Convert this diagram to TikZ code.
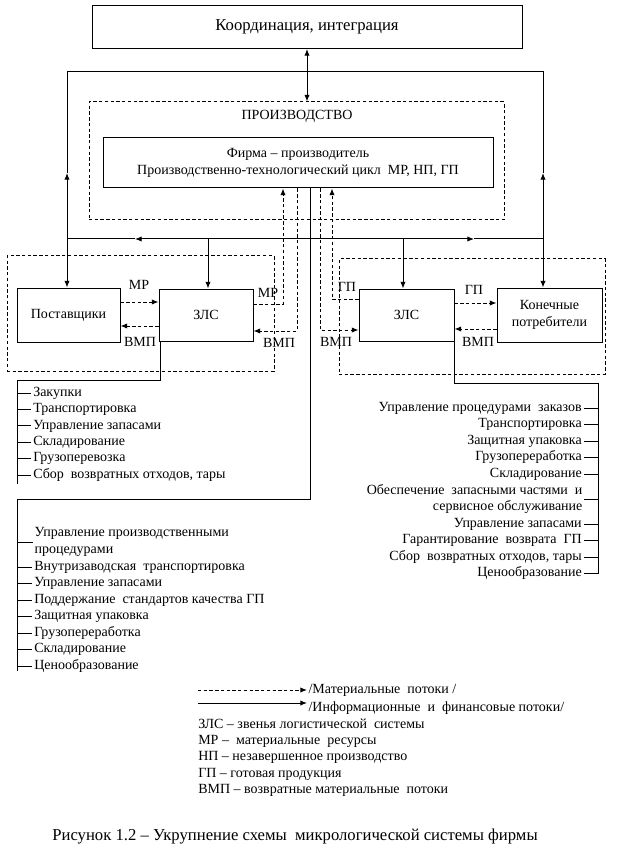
\documentclass[tikz,border=0pt]{standalone}
\usepackage{fontspec}
\setmainfont{LiberationSerif}[Extension=.ttf, UprightFont=*-Regular, BoldFont=*-Bold]
\usepackage{tikz}
\usetikzlibrary{arrows.meta}

\begin{document}
\begin{tikzpicture}[x=0.75pt, y=-0.75pt,
    info/.style={black, line width=0.75pt},
    mat/.style={black, line width=0.75pt, dash pattern=on 2.5pt off 1.8pt},
    arr/.style={-{Latex[length=5pt,width=4pt]}},
    blk/.style={draw, line width=0.75pt, inner sep=0pt, align=center, font=\fontsize{10.5}{12.5}\selectfont},
    grp/.style={draw, mat, inner sep=0pt},
    lbl/.style={inner sep=1pt, font=\fontsize{10.5}{12.5}\selectfont},
    entry/.style={inner sep=1.5pt, text height=7.5pt, text depth=2.5pt, font=\fontsize{10.5}{12.5}\selectfont}]
  \useasboundingbox (0,0) rectangle (618,855);

  \node[grp, minimum width=200.25pt, minimum height=86.25pt] (grpL) at (140.5,313.5) {};
  \node[grp, minimum width=199.5pt, minimum height=86.25pt] (grpR) at (472,316.5) {};
  \node[blk, minimum width=322.5pt, minimum height=32.25pt, font=\fontsize{12.5}{15}\selectfont] (coord) at (307,27) {Координация, интеграция};
  \node[grp, minimum width=311.25pt, minimum height=88.5pt] (prod) at (296.5,161) {};
  \node[lbl] (prodt) at (297,116) {ПРОИЗВОДСТВО};
  \node[blk, minimum width=292.5pt, minimum height=37.5pt] (firm) at (298,163) {Фирма – производитель\\Производственно-технологический цикл\ \ МР, НП, ГП};
  \node[blk, minimum width=77.25pt, minimum height=40.5pt] (sup) at (68.5,315) {Поставщики};
  \node[blk, minimum width=70.5pt, minimum height=39pt] (zlsL) at (206,315) {ЗЛС};
  \node[blk, minimum width=71.25pt, minimum height=39pt] (zlsR) at (406.5,315) {ЗЛС};
  \node[blk, minimum width=78.75pt, minimum height=40.5pt] (cons) at (549.5,315) {Конечные\\потребители};

  \coordinate (tl) at (67,72);   \coordinate (tr) at (543,72);
  \coordinate (al) at (67,173);  \coordinate (ar) at (543,173);
  \coordinate (il) at (67,239);  \coordinate (ir) at (543,239);
  \coordinate (dl) at (208,239); \coordinate (dr) at (403,239);
  \coordinate (hl) at (135,239); \coordinate (hr) at (474,239);
  \draw[info, {Latex[length=5pt,width=4pt]}-{Latex[length=5pt,width=4pt]}] (coord.south) -- (coord.south |- prod.north);
  \draw[info] (al) -- (tl) -- (tr) -- (ar);
  \draw[info, arr] (il) -- (al);
  \draw[info, arr] (ir) -- (ar);
  \draw[info, arr] (il) -- (sup.north -| il);
  \draw[info, arr] (ir) -- (cons.north -| ir);
  \draw[info] (dl) -- (dr);
  \draw[info, arr] (dl) -- (hl);
  \draw[info] (hl) -- (il);
  \draw[info, arr] (dr) -- (hr);
  \draw[info] (hr) -- (ir);
  \draw[info, arr] (dl) -- (zlsL.north -| dl);
  \draw[info, arr] (dr) -- (zlsR.north -| dr);

  \coordinate (mr1) at (140,302); \coordinate (vm1) at (140,326);
  \coordinate (mr2) at (283,304); \coordinate (vm2) at (297,331);
  \coordinate (gp2) at (332,299); \coordinate (vm3) at (320,330);
  \coordinate (gp1) at (475,303); \coordinate (vm4) at (475,329);
  \draw[mat, arr] (sup.east |- mr1) -- (zlsL.west |- mr1);
  \draw[mat, arr] (zlsL.west |- vm1) -- (sup.east |- vm1);
  \draw[mat, arr] (zlsL.east |- mr2) -- (mr2) -- (firm.south -| mr2);
  \draw[mat, arr] (firm.south -| vm2) -- (vm2) -- (zlsL.east |- vm2);
  \draw[mat, arr] (zlsR.west |- gp2) -- (gp2) -- (firm.south -| gp2);
  \draw[mat, arr] (firm.south -| vm3) -- (vm3) -- (zlsR.west |- vm3);
  \draw[mat, arr] (zlsR.east |- gp1) -- (cons.west |- gp1);
  \draw[mat, arr] (cons.west |- vm4) -- (zlsR.east |- vm4);
  \node[lbl] (mrA) at (139,285) {МР};
  \node[lbl] (vmA) at (140,342) {ВМП};
  \node[lbl] (mrB) at (268,293) {МР};
  \node[lbl] (vmB) at (279,343) {ВМП};
  \node[lbl] (gpB) at (347,287) {ГП};
  \node[lbl] (vmC) at (336,342) {ВМП};
  \node[lbl] (gpA) at (474,290) {ГП};
  \node[lbl] (vmD) at (478,342) {ВМП};

  \coordinate (lb1) at (160,380); \coordinate (lb2) at (17,380); \coordinate (lb3) at (17,484);
  \draw[info] (zlsL.south -| lb1) -- (lb1) -- (lb2) -- (lb3);
  \foreach \t [count=\i] in {Закупки, Транспортировка, Управление запасами, Складирование, Грузоперевозка, {Сбор\ \ возвратных отходов, тары}} {
    \node[entry, anchor=west] (sl\i) at (31,376.6+16.4*\i) {\t};
    \draw[info] (lb2 |- sl\i.west) -- (sl\i.west);
  }

  \coordinate (fv) at (310,499); \coordinate (fl) at (17,499); \coordinate (fe) at (17,671);
  \draw[info] (firm.south -| fv) -- (fv) -- (fl) -- (fe);
  \node[lbl, anchor=west, align=left] (pl0) at (33,542) {Управление производственными\\процедурами};
  \draw[info] (fl |- pl0.west) -- (pl0.west);
  \foreach \t [count=\i] in {Внутризаводская\ \ транспортировка, Управление запасами, Поддержание\ \ стандартов качества ГП, Защитная упаковка, Грузопереработка, Складирование, Ценообразование} {
    \node[entry, anchor=west] (pl\i) at (32,550.5+16.5*\i) {\t};
    \draw[info] (fl |- pl\i.west) -- (pl\i.west);
  }

  \coordinate (rb1) at (454,383); \coordinate (rb2) at (598,383); \coordinate (rb3) at (598,574);
  \draw[info] (zlsR.south -| rb1) -- (rb1) -- (rb2) -- (rb3);
  \foreach \t [count=\i] in {Управление процедурами\ \ заказов, Транспортировка, Защитная упаковка, Грузопереработка, Складирование} {
    \node[entry, anchor=east] (rl\i) at (584,391.5+16.5*\i) {\t};
    \draw[info] (rl\i.east) -- (rb2 |- rl\i.east);
  }
  \node[lbl, anchor=east, align=right] (rq0) at (584,499) {Обеспечение\ \ запасными частями\ \ и\\сервисное обслуживание};
  \draw[info] (rq0.east) -- (rb2 |- rq0.east);
  \foreach \t [count=\i] in {Управление запасами, Гарантирование\ \ возврата\ \ ГП, {Сбор\ \ возвратных отходов, тары}, Ценообразование} {
    \node[entry, anchor=east] (rm\i) at (584,507.5+16.5*\i) {\t};
    \draw[info] (rm\i.east) -- (rb2 |- rm\i.east);
  }

  \coordinate (lg1) at (198,690); \coordinate (lg2) at (198,703);
  \node[lbl, anchor=west] (lgm) at (307,690) {/Материальные\ \ потоки /};
  \node[lbl, anchor=west] (lgi) at (307,708) {/Информационные\ \ и\ \ финансовые потоки/};
  \draw[mat, arr] (lg1) -- (lgm.west);
  \draw[info, arr] (lg2) -- (lgi.west |- lg2);
  \foreach \t [count=\i] in {ЗЛС – звенья логистической\ \ системы, МР –\ \ материальные\ \ ресурсы, НП – незавершенное производство, ГП – готовая продукция, ВМП – возвратные материальные\ \ потоки} {
    \node[entry, anchor=west] (lg\i) at (196,708.6+16.3*\i) {\t};
  }
  \node[font=\fontsize{12.5}{15}\selectfont] (cap) at (295,837) {Рисунок 1.2 – Укрупнение схемы\ \ микрологической системы фирмы};
\end{tikzpicture}
\end{document}
